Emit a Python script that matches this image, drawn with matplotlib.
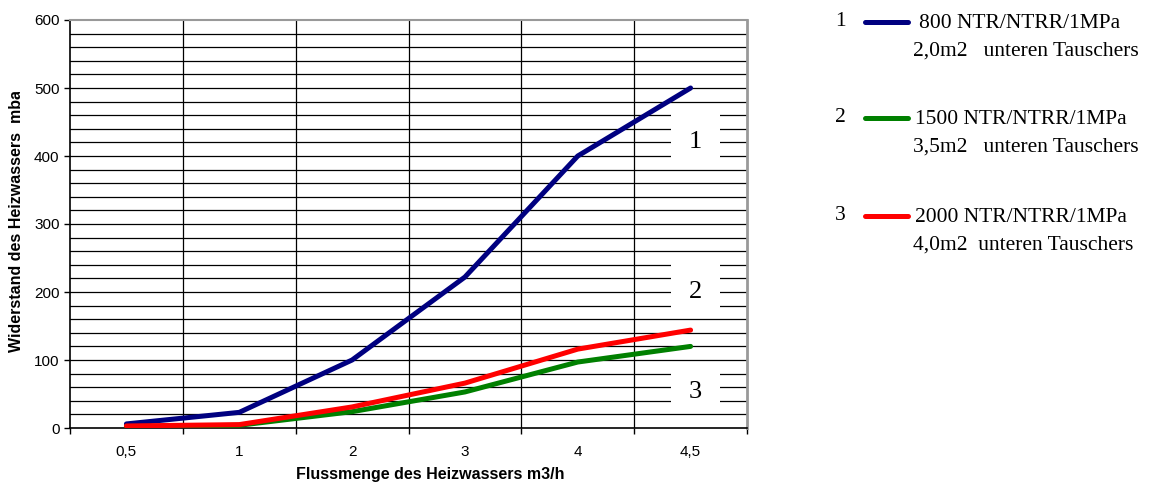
import matplotlib.pyplot as plt
from matplotlib.lines import Line2D
from matplotlib.transforms import Bbox, TransformedBbox

# Data (category axis)
flow_labels = ["0,5", "1", "2", "3", "4", "4,5"]
resist_800 = [6, 23, 100, 222, 400, 500]
resist_1500 = [2, 4, 24, 53, 97, 120]
resist_2000 = [3, 5, 31, 66, 116, 144]

series_names = ["1", "2", "3"]
series_text = [
    ("800 NTR/NTRR/1MPa", "2,0m2   unteren Tauschers"),
    ("1500 NTR/NTRR/1MPa", "3,5m2   unteren Tauschers"),
    ("2000 NTR/NTRR/1MPa", "4,0m2  unteren Tauschers"),
]
colors = ["#000080", "#008000", "#ff0000"]

W, H = 1164, 488
fig = plt.figure(figsize=(W / 100, H / 100), dpi=100)

def fx(px):
    return px / W

def fy(py):
    return 1 - py / H

ax = fig.add_axes([fx(70), fy(428), fx(747) - fx(70), fy(20) - fy(428)])

x = list(range(len(flow_labels)))
for vals, c in zip([resist_800, resist_1500, resist_2000], colors):
    ax.plot(x, vals, color=c, lw=3.6, solid_capstyle="round",
            solid_joinstyle="round", zorder=4)

ax.set_xlim(-0.5, len(flow_labels) - 0.5)
ax.set_ylim(0, 600)

# grid: horizontal every 20, vertical between categories
for yv in range(20, 600, 20):
    ax.axhline(yv, color="black", lw=0.9, zorder=1)
for xv in range(1, len(flow_labels)):
    ax.axvline(xv - 0.5, color="black", lw=0.9, zorder=1)

ax.set_xticks(x)
ax.set_xticklabels(flow_labels, fontsize=11, family="Liberation Sans")
ax.set_xticks([i - 0.5 for i in range(len(flow_labels) + 1)], minor=True)
ax.tick_params(axis="x", which="major", length=0, pad=12)
ax.tick_params(axis="x", which="minor", length=4.5, width=1, direction="out")
ax.set_yticks(range(0, 601, 100))
ax.set_yticklabels([str(v) for v in range(0, 601, 100)], fontsize=11,
                   family="Liberation Sans")
ax.tick_params(axis="y", length=4, width=1, pad=3.5)

ax.spines["left"].set_color("black")
ax.spines["bottom"].set_color("black")
ax.spines["left"].set_linewidth(1.2)
ax.spines["bottom"].set_linewidth(1.2)
ax.spines["top"].set_color("#999999")
ax.spines["right"].set_color("#999999")
ax.spines["right"].set_linewidth(2)
ax.spines["top"].set_linewidth(1.5)

# white label boxes inside the plot
for name, (x0, y0, y1) in zip(series_names, [(671, 105, 168), (671, 257, 317), (671, 362, 412)]):
    ax.add_patch(plt.Rectangle((fx(x0), fy(y1)), fx(49), fy(y0) - fy(y1),
                               transform=fig.transFigure, facecolor="white",
                               edgecolor="none", zorder=2))
    fig.text(fx(695), fy((y0 + y1) / 2 + 5), name, fontsize=19,
             family="Liberation Serif", ha="center", va="center", zorder=5)

# axis titles
fig.text(fx(430), fy(474), "Flussmenge des Heizwassers m3/h", fontsize=11.5,
         fontweight="bold", family="Liberation Sans", ha="center", va="center")
yl = fig.text(fx(17), fy(352), "Widerstand des Heizwassers  mbar", fontsize=11.5,
              fontweight="bold", family="Liberation Sans", rotation=90,
              ha="center", va="bottom")
yl.set_clip_box(TransformedBbox(Bbox([[0, 0], [1, fy(92)]]), fig.transFigure))
yl.set_clip_on(True)

# legend on the right, drawn by hand
leg_y = [(22, 23.5, 51), (118, 119, 147), (216, 217, 245)]
leg_x1 = [919, 915, 915]
for name, (l1, l2), c, (ly, ty1, ty2), tx in zip(series_names, series_text, colors, leg_y, leg_x1):
    fig.text(fx(840), fy(ly), name, fontsize=15.5, family="Liberation Serif",
             ha="center", va="center")
    fig.add_artist(Line2D([fx(865), fx(908)], [fy(ly), fy(ly)], color=c,
                          lw=3.6, solid_capstyle="round",
                          transform=fig.transFigure))
    fig.text(fx(tx), fy(ty1), l1, fontsize=15.5, family="Liberation Serif",
             ha="left", va="center")
    fig.text(fx(913), fy(ty2), l2, fontsize=15.5, family="Liberation Serif",
             ha="left", va="center")

fig.savefig("out.png", dpi=100)
